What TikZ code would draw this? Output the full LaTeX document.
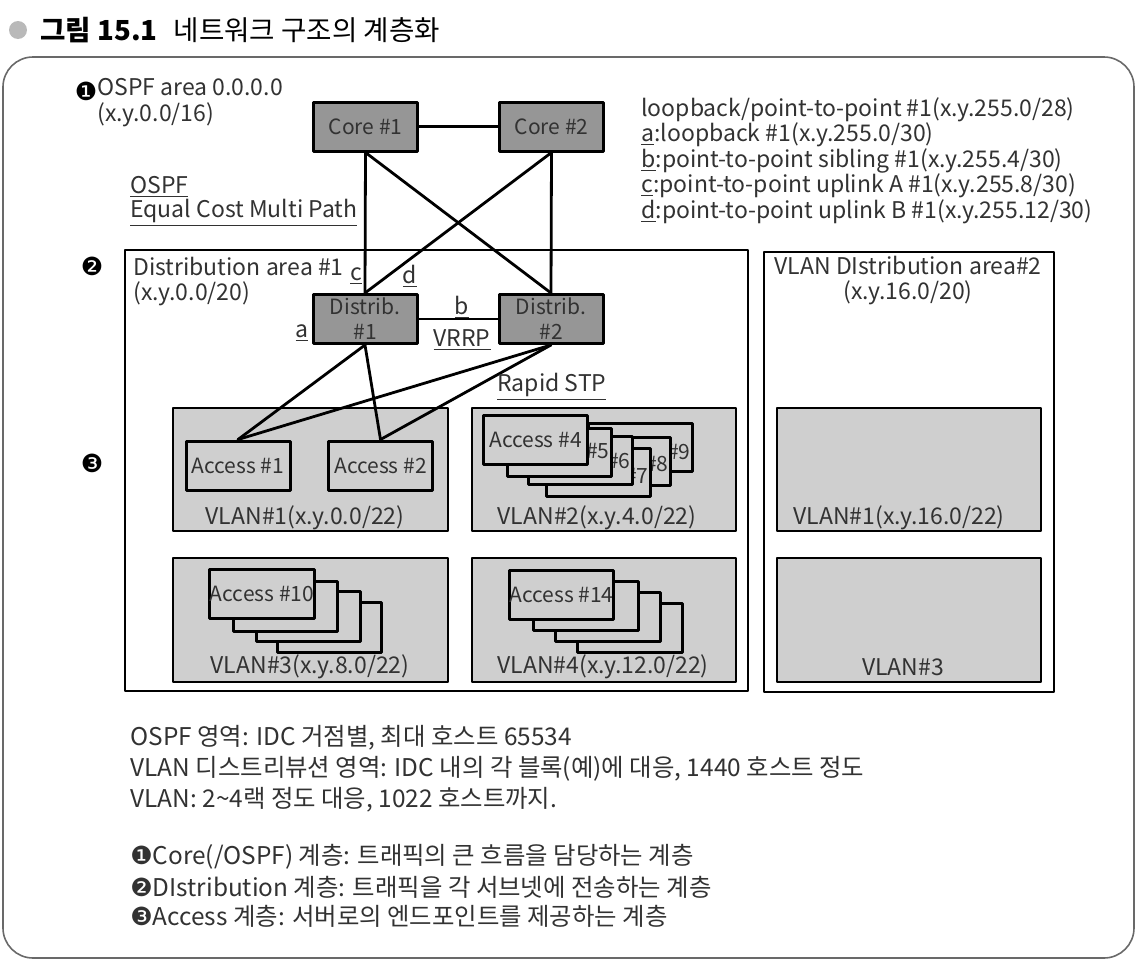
\documentclass[tikz,border=0pt]{standalone}
\usepackage{fontspec}
\setmainfont{Noto Sans CJK KR}
\newfontfamily\numfont{DejaVu Sans}

\definecolor{devgray}{RGB}{150,150,150}
\definecolor{vlangray}{RGB}{207,207,207}
\definecolor{txtgray}{RGB}{50,50,50}
\definecolor{framegray}{RGB}{105,105,105}
\definecolor{dotgray}{RGB}{185,185,185}

\tikzset{
  box/.style={draw, line width=1.5pt, minimum width=52pt, minimum height=24.5pt,
    inner sep=0pt, text=txtgray, font=\fontsize{10.5}{12.5}\selectfont},
  core/.style={box, fill=devgray},
  access/.style={box, fill=vlangray},
  stackbox/.style={draw, line width=1.5pt, fill=vlangray},
  vlan/.style={draw, line width=1.4pt, fill=vlangray},
  area/.style={draw, line width=1.2pt},
  link/.style={line width=1.4pt},
  txt/.style={inner sep=0pt, text=txtgray, font=\fontsize{11.5}{12.5}\selectfont},
  note/.style={txt, anchor=west, font=\fontsize{12.2}{13}\selectfont},
  badge/.style={inner sep=0pt, font=\numfont\fontsize{12.5}{14}\selectfont}
}

\newcommand{\nb}[1]{{\numfont\fontsize{12.5}{12}\selectfont #1}}

\begin{document}
\begin{tikzpicture}[x=0.5pt, y=-0.5pt, line join=round, line cap=round]
    \useasboundingbox (0,0) rectangle (1142,964);

    % title
    \fill[dotgray] (18,30) circle (4.5pt);
    \node[inner sep=0pt, anchor=west, font=\fontsize{13.8}{15}\selectfont] (title) at (40,30)
        {\textbf{그림 15.1}\hspace{8pt}네트워크 구조의 계층화};

    % outer frame
    \draw[framegray, line width=0.8pt, rounded corners=15pt] (3,57) rectangle (1134,958);

    % areas
    \draw[area] (125,250) rectangle (748,691); % Distribution area #1
    \draw[area] (764,252) rectangle (1054,692); % Distribution area #2

    % VLAN blocks
    \draw[vlan] (173,408) rectangle (448,531);
    \draw[vlan] (472,408) rectangle (736,531);
    \draw[vlan] (173,558) rectangle (448,682);
    \draw[vlan] (472,558) rectangle (736,682);
    \draw[vlan] (777,408) rectangle (1041,531);
    \draw[vlan] (777,558) rectangle (1041,682);

    % core / distribution switches
    \node[core] (core1) at (365.5,126.5) {Core \#1};
    \node[core] (core2) at (551.5,126.5) {Core \#2};
    \node[core, align=center] (dist1) at (365,319) {Distrib.\\\#1};
    \node[core, align=center] (dist2) at (551,319) {Distrib.\\\#2};

    % access switches (VLAN#1)
    \node[access] (acc1) at (238,465.5) {Access \#1};
    \node[access] (acc2) at (380.5,465.5) {Access \#2};

    % links
    \draw[link] (core1) -- (core2);
    \draw[link] (core1.south) -- (dist1.north);
    \draw[link] (core1.south) -- (dist2.north);
    \draw[link] (core2.south) -- (dist1.north);
    \draw[link] (core2.south) -- (dist2.north);
    \draw[link] (dist1) -- (dist2);
    \draw[link] (dist1.south) -- (acc1.north);
    \draw[link] (dist1.south) -- (acc2.north);
    \draw[link] (dist2.south) -- (acc1.north);
    \draw[link] (dist2.south) -- (acc2.north);

    % VLAN#2 stack (#9 .. #5 behind Access #4)
    \foreach \r/\t/\ly/\n in {692/423/452/9, 670/437/464/8, 650/448/476/7, 632/436/461/6, 611/428/451/5} {
        \draw[stackbox] (\r-104,\t) rectangle (\r,\t+48);
        \node[txt, anchor=east, font=\fontsize{10.5}{12}\selectfont] (num\n) at (\r-1,\ly) {\#\n};
    }
    \node[access] (acc4) at (535.5,439.5) {Access \#4};

    % VLAN#3 stack
    \foreach \dx/\dy in {67/33, 46/22, 23/12}
        \draw[stackbox] (210+\dx,569+\dy) rectangle (314+\dx,619+\dy);
    \node[access] (acc10) at (262,594) {Access \#10};

    % VLAN#4 stack
    \foreach \dx/\dy in {68/33, 46/22, 24/11}
        \draw[stackbox] (509+\dx,570+\dy) rectangle (614+\dx,619+\dy);
    \node[access] (acc14) at (561.5,594.5) {Access \#14};

    % labels
    \node[badge] (n1) at (86,91) {❶};
    \node[txt, anchor=north west, align=left, font=\fontsize{11.5}{13.2}\selectfont] (ospf) at (97,78)
        {OSPF area 0.0.0.0\\(x.y.0.0/16)};
    \node[txt, anchor=west] (ecmp1) at (130,187) {\underline{OSPF}};
    \node[txt, anchor=west] (ecmp2) at (130,213) {\underline{Equal Cost Multi Path}};
    \node[txt, anchor=north west, align=left, font=\fontsize{11.5}{12.75}\selectfont] (legend) at (641,97)
        {loopback/point-to-point \#1(x.y.255.0/28)\\
         \underline{a}:loopback \#1(x.y.255.0/30)\\
         \underline{b}:point-to-point sibling \#1(x.y.255.4/30)\\
         \underline{c}:point-to-point uplink A \#1(x.y.255.8/30)\\
         \underline{d}:point-to-point uplink B \#1(x.y.255.12/30)};

    \node[badge] (n2) at (92,266) {❷};
    \node[badge] (n3) at (92,463) {❸};
    \node[txt, anchor=north west, align=left] (dista) at (133,257) {Distribution area \#1\\(x.y.0.0/20)};
    \node[txt] (lc) at (356,276) {\underline{c}};
    \node[txt] (ld) at (410,276) {\underline{d}};
    \node[txt] (lb) at (462,307) {\underline{b}};
    \node[txt] (la) at (302,333) {\underline{a}};
    \node[txt] (vrrp) at (462,340) {\underline{VRRP}};
    \node[txt, anchor=west] (rstp) at (497,387) {\underline{Rapid STP}};

    \node[txt] (vl1) at (305,518) {VLAN\#1(x.y.0.0/22)};
    \node[txt] (vl2) at (597,518) {VLAN\#2(x.y.4.0/22)};
    \node[txt] (vl3) at (310,667) {VLAN\#3(x.y.8.0/22)};
    \node[txt] (vl4) at (603,667) {VLAN\#4(x.y.12.0/22)};

    \node[txt, align=center] (distb) at (908,281) {VLAN DIstribution area\#2\\(x.y.16.0/20)};
    \node[txt] (vl1b) at (899,518) {VLAN\#1(x.y.16.0/22)};
    \node[txt] (vl3b) at (903,667) {VLAN\#3};

    % notes
    \node[note] (note1) at (130,738) {OSPF 영역: IDC 거점별, 최대 호스트 65534};
    \node[note] (note2) at (130,769) {VLAN 디스트리뷰션 영역: IDC 내의 각 블록(예)에 대응, 1440 호스트 정도};
    \node[note] (note3) at (130,800) {VLAN: 2\textasciitilde4랙 정도 대응, 1022 호스트까지.};
    \node[note] (note4) at (130,857) {\nb{❶}Core(/OSPF) 계층: 트래픽의 큰 흐름을 담당하는 계층};
    \node[note] (note5) at (130,887) {\nb{❷}DIstribution 계층: 트래픽을 각 서브넷에 전송하는 계층};
    \node[note] (note6) at (130,916) {\nb{❸}Access 계층: 서버로의 엔드포인트를 제공하는 계층};
\end{tikzpicture}
\end{document}
